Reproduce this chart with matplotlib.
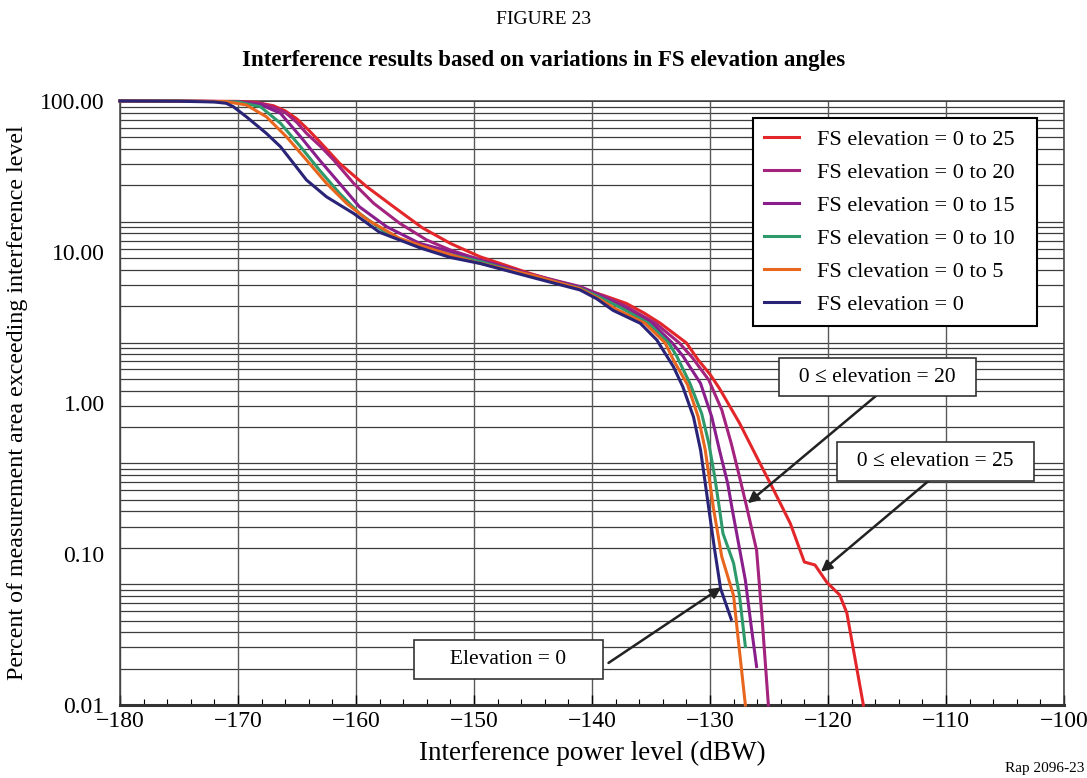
import numpy as np
import matplotlib
matplotlib.use("Agg")
import matplotlib.pyplot as plt
from matplotlib.ticker import MultipleLocator, FixedLocator, NullLocator

plt.rcParams['font.family'] = ['Liberation Serif', 'DejaVu Serif']

# curve data: (interference level dBW, percent of area)
el25_x = [-180, -175, -170, -168.5, -167.0, -166.0, -165.0, -164.0, -163.0, -161.4, -159.1, -156.8,
          -154.4, -152.0, -149.5, -145.3, -141.0, -139.0, -137.1, -135.6, -134.2, -132.0, -131.0,
          -130.0, -129.2, -127.5, -126.05, -124.6, -123.2, -122.0, -121.1, -120.1, -119.0, -118.4,
          -117.0]
el25_y = [100, 99.8, 99.4, 98.0, 93.0, 86.0, 76.0, 64.0, 53.0, 38.7, 27.1, 19.9,
          14.5, 11.4, 9.31, 7.23, 5.75, 5.15, 4.57, 3.95, 3.37, 2.5, 1.93,
          1.55, 1.25, 0.737, 0.441, 0.265, 0.16, 0.0885, 0.0846, 0.065, 0.0535, 0.0407,
          0.01]

el20_x = [-180, -175, -170, -168.0, -167.0, -166.0, -165.0, -164.2, -163.0, -161.9, -160.2, -158.5,
          -156.3, -154.0, -152.0, -149.5, -145.3, -141.0, -139.0, -137.2, -134.6, -132.6, -131.5,
          -130.1, -129.0, -128.2, -127.5, -126.9, -126.05, -125.6, -125.05]
el20_y = [100, 99.8, 99.0, 96.0, 91.0, 84.0, 72.0, 61.1, 50.0, 40.7, 28.5, 21.0,
          15.5, 12.0, 10.3, 8.9, 7.15, 5.9, 5.1, 4.4, 3.37, 2.5, 2.0,
          1.42, 0.90, 0.541, 0.325, 0.207, 0.106, 0.039, 0.01]

el15_x = [-180, -175, -170, -168.0, -166.4, -164.7, -163.1, -161.4, -159.7, -157.4, -154.6, -152.0,
          -149.5, -145.3, -141.0, -139.2, -137.4, -134.9, -133.2, -132.3, -130.8, -129.85, -129.2,
          -128.5, -128.1, -127.0, -126.5, -126.05]
el15_y = [100, 99.8, 98.8, 94.0, 82.9, 58.0, 40.7, 28.5, 19.9, 14.7, 11.4, 10.05,
          8.8, 7.1, 5.85, 5.05, 4.3, 3.37, 2.5, 2.05, 1.35, 0.81, 0.489,
          0.294, 0.195, 0.067, 0.033, 0.018]

el10_x = [-180, -175, -170, -168.1, -166.4, -164.7, -163.1, -161.4, -159.7, -157.4, -154.6, -152.0,
          -149.5, -145.3, -141.0, -139.3, -137.5, -135.2, -133.5, -132.8, -131.7, -130.7, -130.1,
          -129.6, -129.2, -128.9, -128.0, -127.5, -127.0]
el10_y = [100, 99.8, 98.5, 91.7, 71.2, 49.8, 34.9, 24.5, 18.0, 13.3, 10.8, 9.6,
          8.65, 7.0, 5.75, 5.0, 4.25, 3.37, 2.5, 2.03, 1.35, 0.85, 0.541,
          0.325, 0.2, 0.137, 0.087, 0.053, 0.0244]

el5_x = [-180, -175, -171, -169.3, -167.6, -165.9, -164.2, -162.5, -160.8, -159.0, -156.3, -153.5,
         -150.0, -145.0, -141.0, -139.5, -138.0, -135.5, -133.8, -133.1, -131.9, -131.0, -130.4,
         -130.0, -129.7, -129.0, -128.0, -127.6, -127.0]
el5_y = [100, 99.7, 99.0, 94.1, 78.7, 58.0, 40.7, 28.5, 21.0, 16.3, 12.3, 10.4,
         8.6, 7.0, 5.7, 4.95, 4.2, 3.37, 2.5, 1.93, 1.32, 0.81, 0.489,
         0.294, 0.2, 0.096, 0.053, 0.027, 0.01]

el0_x = [-180, -175, -172, -171, -170.4, -169.3, -167.6, -166.4, -165.3, -164.2, -162.5, -160.2,
         -158.0, -154.5, -152.0, -149.5, -145.3, -141.0, -139.6, -138.2, -135.9, -134.5, -133.1,
         -132.3, -131.4, -130.8, -130.4, -130.1, -129.6, -129.1, -128.2]
el0_y = [100, 99.6, 98.5, 96.5, 91.7, 78.7, 61.1, 49.8, 38.7, 30.0, 23.2, 18.0,
         13.5, 10.6, 9.2, 8.4, 6.86, 5.6, 4.9, 4.1, 3.37, 2.61, 1.74,
         1.28, 0.81, 0.489, 0.294, 0.2, 0.106, 0.059, 0.037]

labels = ['FS elevation = 0 to 25', 'FS elevation = 0 to 20', 'FS elevation = 0 to 15',
          'FS elevation = 0 to 10', 'FS clevation = 0 to 5', 'FS elevation = 0']
colors = ['#e3262a', '#a3237f', '#8a1e8c', '#2e9a6b', '#e8661e', '#2a2478']
series = [(el25_x, el25_y), (el20_x, el20_y), (el15_x, el15_y),
          (el10_x, el10_y), (el5_x, el5_y), (el0_x, el0_y)]

y_ticks = [0.01, 0.1, 1, 10, 100]
y_ticklabels = ['0.01', '0.10', '1.00', '10.00', '100.00']

fig = plt.figure(figsize=(10.87, 7.78), dpi=100)
ax = fig.add_axes([0.1104, 0.0938, 0.8684, 0.7764])
ax.set_yscale('log')
ax.set_xlim(-180, -100)
ax.set_ylim(0.01, 100)

# the printed grid is a 5-cycle log paper laid over the 4 labelled decades
for k in range(5):
    for m in range(1, 10):
        frac = np.log10(m * 10 ** k) / 5.0
        ax.axhline(10 ** (-2 + 4 * frac), color='#3c3c3c', lw=0.9, zorder=1)
ax.axhline(100, color='#3c3c3c', lw=1.2, zorder=1)

ax.xaxis.set_major_locator(MultipleLocator(10))
ax.xaxis.set_minor_locator(MultipleLocator(2))
ax.grid(axis='x', which='major', color='#5a5a5a', lw=1.0, zorder=1)
ax.tick_params(axis='x', which='major', direction='in', length=7, width=1, labelsize=17, pad=4)
ax.tick_params(axis='x', which='minor', direction='in', length=4, width=0.8)

ax.yaxis.set_major_locator(FixedLocator(y_ticks))
ax.yaxis.set_minor_locator(NullLocator())
ax.set_yticklabels(y_ticklabels)
ax.tick_params(axis='y', which='major', length=0, labelsize=17, pad=11)

for (x, y), c, lab in zip(series, colors, labels):
    ax.plot(x, y, color=c, lw=2.2, label=lab, zorder=3, clip_on=False)

for side in ['left', 'right', 'top']:
    ax.spines[side].set_color('#3c3c3c')
    ax.spines[side].set_linewidth(1.1)
ax.spines['bottom'].set_color('#333333')
ax.spines['bottom'].set_linewidth(2.2)

leg = ax.legend(loc='upper right', bbox_to_anchor=(0.9714, 0.9719), fontsize=16,
                frameon=True, fancybox=False, edgecolor='black', framealpha=1,
                handlelength=1.6, handletextpad=0.8, labelspacing=0.56,
                borderpad=0.5, borderaxespad=0)
for t in leg.get_texts():
    t.set_text(t.get_text() + '  ')
leg.get_frame().set_linewidth(1.5)
leg.set_zorder(5)

box = dict(boxstyle='square,pad=0.45', facecolor='white', edgecolor='#333333', lw=1.2)
arrow = dict(arrowstyle='-|>', color='#222222', lw=1.8, mutation_scale=16, shrinkA=0, shrinkB=0)

ax.annotate('', xy=(-126.8, 0.217), xytext=(-115.9, 1.12), arrowprops=arrow, zorder=6)
ax.text(-115.8, 1.48, '  0 \u2264 elevation = 20  ', fontsize=15.5, ha='center', va='center',
        bbox=box, zorder=7)

ax.annotate('', xy=(-120.6, 0.0763), xytext=(-111.3, 0.313), arrowprops=arrow, zorder=6)
ax.text(-110.9, 0.411, '  0 \u2264 elevation = 25  ', fontsize=15.5, ha='center', va='center',
        bbox=box, zorder=7)

ax.annotate('', xy=(-129.04, 0.0601), xytext=(-138.6, 0.019), arrowprops=arrow, zorder=6)
ax.text(-147.1, 0.0200, '     Elevation = 0     ', fontsize=15.5, ha='center', va='center',
        bbox=box, zorder=7)

ax.set_xlabel('Interference power level (dBW)', fontsize=19.5, labelpad=7)
ax.set_ylabel('Percent of measurement area exceeding interference level', fontsize=17.3, labelpad=9)

fig.text(0.5, 0.975, 'FIGURE 23', fontsize=14, ha='center', va='center')
fig.text(0.5, 0.922, 'Interference results based on variations in FS elevation angles',
         fontsize=16.5, fontweight='bold', ha='center', va='center')
fig.text(0.998, 0.012, 'Rap 2096-23', fontsize=11, ha='right', va='center')

fig.savefig('out.png', dpi=100)
